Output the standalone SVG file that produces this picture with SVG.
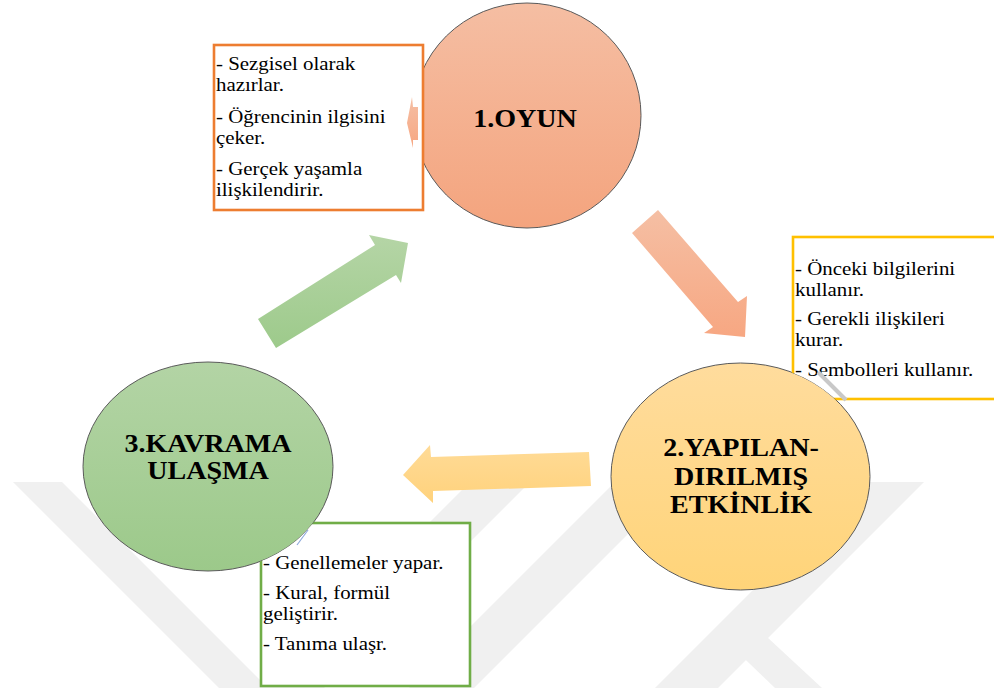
<svg xmlns="http://www.w3.org/2000/svg" width="994" height="688" viewBox="0 0 994 688">
<style>
.circ{stroke:#5a5a5a;stroke-width:1}
.lbl{font-family:"Liberation Serif","Times New Roman",serif;font-weight:bold;font-size:26px;fill:#000;text-anchor:middle}
.cap{font-family:"Liberation Serif","Times New Roman",serif;font-size:19px;fill:#000}
.box{fill:#fff;stroke-width:2.6}
.wm{fill:#f0f0f0}
</style>
<defs>
<linearGradient id="gOrange" x1="0" y1="0" x2="0" y2="1"><stop offset="0" stop-color="#F5BEA3"/><stop offset="1" stop-color="#F4A47E"/></linearGradient>
<linearGradient id="gYellow" x1="0" y1="0" x2="0" y2="1"><stop offset="0" stop-color="#FFDC9D"/><stop offset="1" stop-color="#FFD479"/></linearGradient>
<linearGradient id="gGreen" x1="0" y1="0" x2="0" y2="1"><stop offset="0" stop-color="#B3D4A5"/><stop offset="1" stop-color="#9CC98A"/></linearGradient>
<linearGradient id="aOrange" x1="0" y1="0" x2="0" y2="1"><stop offset="0" stop-color="#F5BFA4"/><stop offset="1" stop-color="#F7A782"/></linearGradient>
<linearGradient id="aYellow" x1="0" y1="0" x2="0" y2="1"><stop offset="0" stop-color="#FFDB97"/><stop offset="1" stop-color="#FFD27C"/></linearGradient>
<linearGradient id="aGreen" x1="0" y1="0" x2="0" y2="1"><stop offset="0" stop-color="#B5D5A6"/><stop offset="1" stop-color="#9DCA8B"/></linearGradient>
<mask id="m2" maskUnits="userSpaceOnUse" x="0" y="0" width="994" height="688"><rect width="994" height="688" fill="#fff"/><ellipse cx="740.5" cy="476.5" rx="129.5" ry="113.5" fill="#000"/></mask>
<mask id="m3" maskUnits="userSpaceOnUse" x="0" y="0" width="994" height="688"><rect width="994" height="688" fill="#fff"/><ellipse cx="208" cy="466.5" rx="125" ry="104.5" fill="#000"/></mask>
</defs>
<rect width="994" height="688" fill="#fff"/>
<g id="watermark">
<polygon class="wm" points="13,482 62,482 268,688 219,688"/>
<polygon class="wm" points="470,482 530,482 324,688 264,688"/>
<polygon class="wm" points="615,482 680,482 474,688 409,688"/>
<polygon class="wm" points="861,482 924,482 718,688 655,688"/>
<polygon class="wm" points="722,637 767,637 822,688 775,688"/>
</g>
<g id="connectors">
<polygon points="632,233 658,210 738,302 747,296 745,337 704,333 713,327" fill="url(#aOrange)"/>
<polygon points="589,452 591,486 433,491 433,503 403,475 430,445 431,457" fill="url(#aYellow)"/>
<polygon points="258,319 276,348 396,275 401,283 408,243 369,235 375,245" fill="url(#aGreen)"/>
</g>
<g id="node-oyun">
<ellipse class="circ" cx="527" cy="115.5" rx="114" ry="112.5" fill="url(#gOrange)"/>
<g transform="translate(525 0) scale(1.08 1)"><text class="lbl" x="0" y="127">1.OYUN</text></g>
</g>
<g id="callout-oyun">
<rect class="box" x="214" y="45" width="209" height="165" stroke="#ED7D31"/>
<g transform="translate(216 0) scale(1.1 1)">
<text class="cap" x="0" y="70">- Sezgisel olarak</text>
<text class="cap" x="0" y="91">hazırlar.</text>
<text class="cap" x="0" y="123">- Öğrencinin ilgisini</text>
<text class="cap" x="0" y="144">çeker.</text>
<text class="cap" x="0" y="175">- Gerçek yaşamla</text>
<text class="cap" x="0" y="196">ilişkilendirir.</text>
</g>
<polygon points="407,123 412,97 413,107 418,107 418,140 413,140 413,148" fill="url(#aOrange)"/>
</g>
<g id="node-yapilandirilmis">
<ellipse class="circ" cx="740.5" cy="476.5" rx="129.5" ry="113.5" fill="url(#gYellow)"/>
<g transform="translate(741 0) scale(1.08 1)">
<text class="lbl" x="0" y="456">2.YAPILAN-</text>
<text class="lbl" x="0" y="485">DIRILMIŞ</text>
<text class="lbl" x="0" y="513">ETKİNLİK</text>
</g>
</g>
<g id="callout-yapilandirilmis">
<rect class="box" x="793" y="237" width="212" height="162" stroke="#FFC000" mask="url(#m2)"/>
<g transform="translate(795 0) scale(1.1 1)">
<text class="cap" x="0" y="275">- Önceki bilgilerini</text>
<text class="cap" x="0" y="296">kullanır.</text>
<text class="cap" x="0" y="325">- Gerekli ilişkileri</text>
<text class="cap" x="0" y="346">kurar.</text>
<text class="cap" x="0" y="376">- Sembolleri kullanır.</text>
</g>
</g>
<g id="node-kavrama">
<ellipse class="circ" cx="208" cy="466.5" rx="125" ry="104.5" fill="url(#gGreen)"/>
<g transform="translate(208 0) scale(1.08 1)">
<text class="lbl" x="0" y="452">3.KAVRAMA</text>
<text class="lbl" x="0" y="479">ULAŞMA</text>
</g>
</g>
<g id="callout-kavrama">
<rect class="box" x="261" y="523" width="209" height="163" stroke="#70AD47" mask="url(#m3)"/>
<g transform="translate(263 0) scale(1.1 1)">
<text class="cap" x="0" y="569">- Genellemeler yapar.</text>
<text class="cap" x="0" y="599">- Kural, formül</text>
<text class="cap" x="0" y="620">geliştirir.</text>
<text class="cap" x="0" y="650">- Tanıma ulaşr.</text>
</g>
</g>
<g id="leader-lines">
<line x1="818" y1="372" x2="846" y2="400" stroke="#c8c8c8" stroke-width="4"/>
<line x1="308" y1="530" x2="297" y2="545" stroke="#8FAADC" stroke-width="1.2"/>
</g>
</svg>
